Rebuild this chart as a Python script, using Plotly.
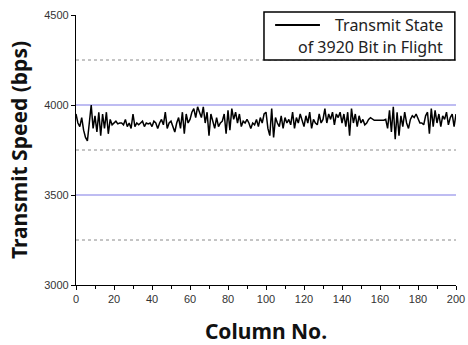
import plotly.graph_objects as go

column_no = list(range(0, 201))
transmit_speed = [
    3950, 3900, 3880, 3930, 3860, 3820, 3800, 3920, 4000, 3870,
    3940, 3850, 3960, 3830, 3950, 3870, 3960, 3840, 3920, 3890,
    3900, 3910, 3895, 3900, 3900, 3890, 3920, 3880, 3900, 3870,
    3950, 3880, 3900, 3890, 3900, 3910, 3880, 3900, 3895, 3900,
    3880, 3910, 3900, 3870, 3900, 3920, 3890, 3960, 3870, 3900,
    3910, 3880, 3850, 3900, 3930, 3870, 3960, 3840, 3950, 3900,
    3920, 3960, 3980, 3930, 3990, 3960, 3930, 3990, 3900, 3960,
    3830, 3950, 3900, 3870, 3930, 3880, 3900, 3910, 3950, 3840,
    3970, 3860, 3980, 3920, 3960, 3900, 3950, 3880, 3910, 3900,
    3920, 3900, 3870, 3900, 3890, 3920, 3880, 3930, 3900, 3950,
    3960, 3870, 3830, 3980, 3820, 3930, 3900, 3880, 3940, 3870,
    3930, 3900, 3920, 3890, 3960, 3870, 3930, 3900, 3950, 3910,
    3880, 3940, 3900, 3960, 3870, 3920, 3900, 3890, 3950, 3900,
    3920, 3980, 3900, 3950, 3920, 3960, 3890, 3950, 3930, 3960,
    3900, 3950, 3880, 3960, 3830, 3980, 3900, 3950, 3880, 3940,
    3900, 3920, 3890, 3900, 3920, 3930, 3920, 3915, 3915, 3915,
    3915, 3915, 3915, 3920, 3870, 3970, 3850, 3990, 3810, 3960,
    3830, 3940, 3880, 3960, 3900, 3870, 3920, 3940, 3930, 3950,
    3920, 3900, 3900, 3890, 3940, 3960, 3840, 3980, 3880, 3970,
    3900, 3950, 3880, 3940, 3920, 3960, 3890, 3930, 3950, 3880,
    3950,
]
x_ticks = list(range(0, 201, 20))
y_ticks = [3000, 3500, 4000, 4500]
solid_grid = [3500, 4000]
dotted_grid = [3250, 3750, 4250]
legend_lines = ["Transmit State", "of 3920 Bit in Flight"]

fig = go.Figure()
fig.add_trace(go.Scatter(x=column_no, y=transmit_speed, mode="lines",
                         line=dict(color="black", width=1.5), showlegend=False))

shapes = []
for g in solid_grid:
    shapes.append(dict(type="line", xref="paper", yref="y", x0=0, x1=1, y0=g, y1=g,
                       line=dict(color="#a9a6ee", width=1.6), layer="below"))
for g in dotted_grid:
    shapes.append(dict(type="line", xref="paper", yref="y", x0=0, x1=1, y0=g, y1=g,
                       line=dict(color="#8a8a8a", width=1, dash="dot"), layer="below"))
# legend box
shapes.append(dict(type="rect", xref="paper", yref="paper", x0=0.4947, x1=0.997, y0=0.833, y1=1.011,
                   line=dict(color="black", width=1.5), fillcolor="white"))
shapes.append(dict(type="line", xref="paper", yref="paper", x0=0.524, x1=0.642, y0=0.963, y1=0.963,
                   line=dict(color="black", width=2)))

annotations = [
    dict(xref="paper", yref="paper", x=0.972, y=0.963, xanchor="right", yanchor="middle",
         text=legend_lines[0], showarrow=False, font=dict(family="Noto Sans", size=16, color="#222")),
    dict(xref="paper", yref="paper", x=0.972, y=0.883, xanchor="right", yanchor="middle",
         text=legend_lines[1], showarrow=False, font=dict(family="Noto Sans", size=16, color="#222")),
]

fig.update_layout(
    width=468, height=345,
    margin=dict(l=76, r=12, t=15, b=60),
    paper_bgcolor="white", plot_bgcolor="white",
    shapes=shapes, annotations=annotations,
    xaxis=dict(range=[0, 200], tickvals=x_ticks, showgrid=False, zeroline=False, automargin=False,
               showline=True, linecolor="black", linewidth=1.2,
               ticks="outside", ticklen=4, tickcolor="black",
               minor=dict(dtick=10, ticks="outside", ticklen=3, tickcolor="black"),
               tickfont=dict(family="Liberation Sans", size=11, color="#333"),
               title=dict(text="<b>Column No.</b>", font=dict(family="Noto Sans", size=21, color="#111"),
                          standoff=20)),
    yaxis=dict(range=[3000, 4500], tickvals=y_ticks, showgrid=False, zeroline=False, automargin=False,
               showline=True, linecolor="black", linewidth=1.2,
               ticks="outside", ticklen=4, tickcolor="black",
               tickfont=dict(family="Liberation Sans", size=11, color="#333"),
               title=dict(text="<b>Transmit Speed (bps)</b>", font=dict(family="Noto Sans", size=21, color="#111"),
                          standoff=10)),
)

fig.write_html("out.html")
